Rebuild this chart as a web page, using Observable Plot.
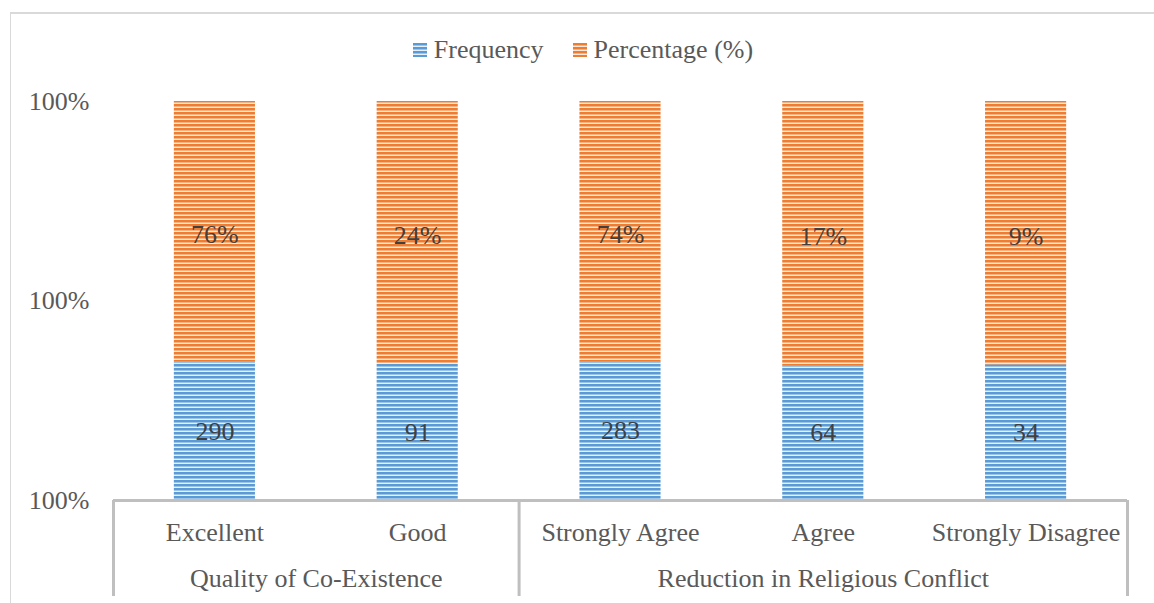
<!DOCTYPE html>
<html>
<head>
<meta charset="utf-8">
<script src="https://cdn.jsdelivr.net/npm/d3@7"></script>
<script src="https://cdn.jsdelivr.net/npm/@observablehq/plot@0.6"></script>
<style>
  html, body { margin: 0; padding: 0; background: #fff; }
  #chart { position: relative; width: 1154px; height: 603px; overflow: hidden;
           font-family: "Liberation Serif", "Times New Roman", serif; }
  #border { position: absolute; left: 10px; top: 12px; width: 1200px; height: 700px;
            border-left: 1px solid #d9d9d9; border-top: 2px solid #d9d9d9; box-sizing: border-box; }
  #legend { position: relative; height: 80px; display: flex; justify-content: center;
            align-items: center; gap: 29px; font-size: 26px; color: #595959; padding-top: 20px;
            padding-left: 12px; box-sizing: border-box; }
  #legend .item { display: flex; align-items: center; gap: 7px; }
  #legend .sw { width: 14px; height: 14px; }
  #plot { position: relative; }
</style>
</head>
<body>
<div id="chart">
  <div id="border"></div>
  <div id="legend"></div>
  <div id="plot"></div>
</div>
<script>
// Survey responses: counts and shares per answer, grouped by question
const categories = ["Excellent", "Good", "Strongly Agree", "Agree", "Strongly Disagree"];
const groupOf = ["Quality of Co-Existence", "Quality of Co-Existence",
                 "Reduction in Religious Conflict", "Reduction in Religious Conflict", "Reduction in Religious Conflict"];
const frequency = [290, 91, 283, 64, 34];
const percentage = [0.76, 0.24, 0.74, 0.17, 0.09];
const seriesNames = ["Frequency", "Percentage (%)"];
const yTicks = [0.996, 0.998, 1.0];

const blue = "#5B9BD5", orange = "#ED7D31";
const stripes = {
  Frequency: [blue, "#9dc3e6", "#e6f0fa"],
  "Percentage (%)": [orange, "#f4b183", "#fce8da"]
};

// 100% stacked rows: frequency share at the bottom, percentage share on top
const rows = categories.map((c, i) => {
  const total = frequency[i] + percentage[i];
  return {i, category: c, freq: frequency[i], pct: percentage[i], split: frequency[i] / total};
});

const yMin = yTicks[0], yMax = yTicks[yTicks.length - 1];

// group spans along the category index
const groups = [];
groupOf.forEach((g, i) => {
  const last = groups[groups.length - 1];
  if (last && last.name === g) last.end = i; else groups.push({name: g, start: i, end: i});
});
const boundaries = [groups[0].start - 0.5, ...groups.map(g => g.end + 0.5)];

const font = "26px";
const plot = Plot.plot({
  width: 1154,
  height: 523,
  marginTop: 21,
  marginBottom: 103,
  marginLeft: 113,
  marginRight: 27,
  style: {fontFamily: '"Liberation Serif", "Times New Roman", serif', fontSize: font, color: "#595959", background: "transparent", overflow: "visible"},
  x: {domain: [-0.5, categories.length - 0.5], axis: null},
  y: {domain: [yMin, yMax], axis: null},
  marks: [
    Plot.rectY(rows, {x1: d => d.i - 0.2, x2: d => d.i + 0.2, y1: 0, y2: d => d.split, fill: "url(#stripeFrequency)", clip: true}),
    Plot.rectY(rows, {x1: d => d.i - 0.2, x2: d => d.i + 0.2, y1: d => d.split, y2: 1, fill: "url(#stripePercentage)", clip: true}),
    Plot.axisY({ticks: yTicks, tickFormat: d3.format(".0%"), tickSize: 0, tickPadding: 24, fontSize: font, fill: "#595959", label: null}),
    Plot.ruleY([yMin], {stroke: "#bfbfbf", strokeWidth: 3}),
    Plot.axisX({ticks: boundaries, tickSize: 96, tickFormat: () => "", stroke: "#bfbfbf", strokeWidth: 3, label: null}),
    Plot.text(rows, {x: "i", text: "category", frameAnchor: "bottom", dy: 32, lineAnchor: "middle", fontSize: font, fill: "#595959"}),
    Plot.text(groups, {x: g => (g.start + g.end) / 2, text: "name", frameAnchor: "bottom", dy: 78, lineAnchor: "middle", fontSize: font, fill: "#595959"}),
    Plot.text(rows, {x: "i", y: d => (yMin + d.split) / 2, text: d => String(d.freq), lineAnchor: "middle", fontSize: font, fill: "#404040"}),
    Plot.text(rows, {x: "i", y: d => (d.split + yMax) / 2, dy: 3, text: d => d3.format(".0%")(d.pct), lineAnchor: "middle", fontSize: font, fill: "#404040"})
  ]
});

// striped fills
const defs = d3.select(plot).insert("defs", ":first-child");
[["stripeFrequency", stripes.Frequency], ["stripePercentage", stripes["Percentage (%)"]]].forEach(([id, c]) => {
  const p = defs.append("pattern").attr("id", id).attr("patternUnits", "userSpaceOnUse")
    .attr("width", 8).attr("height", 4);
  p.append("rect").attr("width", 8).attr("height", 2).attr("fill", c[0]);
  p.append("rect").attr("y", 2).attr("width", 8).attr("height", 1).attr("fill", c[1]);
  p.append("rect").attr("y", 3).attr("width", 8).attr("height", 1).attr("fill", c[2]);
});
document.getElementById("plot").appendChild(plot);

// legend
const legend = d3.select("#legend");
seriesNames.forEach(name => {
  const c = stripes[name];
  const item = legend.append("div").attr("class", "item");
  item.append("div").attr("class", "sw")
    .style("background", `repeating-linear-gradient(to bottom, ${c[0]} 0 2px, ${c[1]} 2px 3px, ${c[2]} 3px 4px)`);
  item.append("span").text(name);
});
</script>
</body>
</html>
